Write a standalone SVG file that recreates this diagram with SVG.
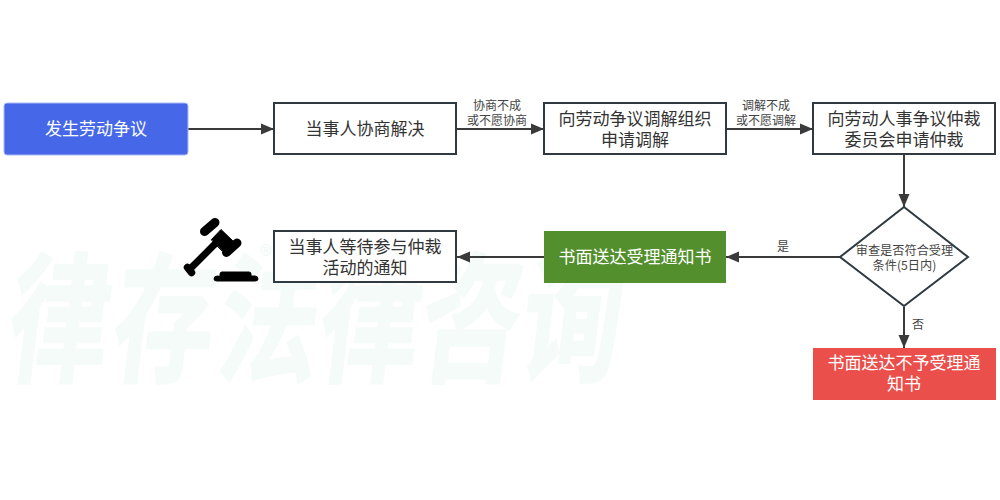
<svg xmlns="http://www.w3.org/2000/svg" width="1000" height="500" viewBox="0 0 1000 500">
<style>
text{font-family:"Noto Sans CJK SC","Noto Sans",sans-serif;text-anchor:middle}
.box{fill:#fff;stroke:#2f3a40;stroke-width:2}
.t{font-size:17px;fill:#333}
.w{font-size:17px;fill:#fff}
.s{font-size:12px;fill:#444}
.d{font-size:12.200px;fill:#444}
.c{fill:none;stroke:#3a3a3a;stroke-width:2}
.wm{font-size:100px;font-weight:700;fill:#f5fbf8;stroke:#f5fbf8;stroke-width:1.500}
</style>
<defs>
<marker id="a" markerUnits="userSpaceOnUse" markerWidth="14" markerHeight="14" refX="13" refY="7" orient="auto"><path d="M0 1.500L13 7L0 12.500z" fill="#3a3a3a"/></marker>
</defs>
<rect width="1000" height="500" fill="#fff"/>
<g id="watermark">
<g transform="matrix(1 0 -0.17 1.4 0 0)">
<text class="wm" x="99" y="265">律</text>
<text class="wm" x="204" y="265">存</text>
<text class="wm" x="309" y="265">法</text>
<text class="wm" x="410" y="265">律</text>
<text class="wm" x="511" y="265">咨</text>
<text class="wm" x="612" y="265">询</text>
</g>
<text x="266" y="265" style="font-size:26px;fill:#f2f9f5">®</text>
</g>
<g id="connectors">
<path class="c" marker-end="url(#a)" d="M188 129H274"/>
<path class="c" marker-end="url(#a)" d="M457 129H544"/>
<path class="c" marker-end="url(#a)" d="M726 129H813"/>
<path class="c" marker-end="url(#a)" d="M904 155V207"/>
<path class="c" marker-end="url(#a)" d="M840 257H726"/>
<path class="c" marker-end="url(#a)" d="M544 257H457"/>
<path class="c" marker-end="url(#a)" d="M904 307V348"/>
<text class="s"><tspan x="497" y="110">协商不成</tspan><tspan x="497" y="125">或不愿协商</tspan></text>
<text class="s"><tspan x="766" y="109.500">调解不成</tspan><tspan x="766" y="124.500">或不愿调解</tspan></text>
<text class="s" x="783" y="251">是</text>
<text class="s" x="918" y="329">否</text>
</g>
<g id="n1"><rect x="4" y="103" width="184" height="52" rx="3" fill="#4668e8" stroke="#a9baf3"/><text class="w" x="96" y="135">发生劳动争议</text></g>
<g id="n2"><rect class="box" x="274" y="103" width="182" height="51"/><text class="t" x="365" y="135">当事人协商解决</text></g>
<g id="n3"><rect class="box" x="544" y="103" width="182" height="51"/><text class="t"><tspan x="635" y="125">向劳动争议调解组织</tspan><tspan x="635" y="146">申请调解</tspan></text></g>
<g id="n4"><rect class="box" x="813" y="103" width="182" height="51"/><text class="t"><tspan x="904" y="125">向劳动人事争议仲裁</tspan><tspan x="904" y="146">委员会申请仲裁</tspan></text></g>
<g id="n5"><path class="box" d="M904 207L968 257L904 306L840 257Z"/><text class="d"><tspan x="904.500" y="255">审查是否符合受理</tspan><tspan x="904.500" y="269.500">条件(5日内)</tspan></text></g>
<g id="n6"><rect x="544" y="231" width="182" height="52" fill="#548f2e"/><text class="w" x="635" y="263">书面送达受理通知书</text></g>
<g id="n7"><rect class="box" x="274" y="231" width="182" height="51"/><text class="t"><tspan x="365" y="252.500">当事人等待参与仲裁</tspan><tspan x="365" y="273.500">活动的通知</tspan></text></g>
<g id="n8"><rect x="813" y="348" width="183" height="52" fill="#ea4f4c"/><text class="w"><tspan x="904" y="369">书面送达不予受理通</tspan><tspan x="904" y="390">知书</tspan></text></g>
<g id="gavel" fill="#000" stroke="#000" stroke-linecap="round">
<path stroke-width="9" fill="none" d="M204.500 231.500L215 222.500"/>
<path stroke-width="9" fill="none" d="M226.500 252.500L237 243"/>
<path stroke-width="1" d="M211.500 239.500L221 229.500L233.500 241.500L222.500 251Z"/>
<path stroke-width="7" stroke-linecap="butt" fill="none" d="M216 243L189 270"/>
<path stroke-width="7.500" fill="none" d="M187.500 267.500L191.500 272.500"/>
<path stroke-width="1" d="M220 276V274Q220 272 222 272H249Q251 272 251 274V276H255Q258 276 258 279Q258 281 255 281H217Q214 281 214 279Q214 276 217 276Z"/>
</g>
</svg>
